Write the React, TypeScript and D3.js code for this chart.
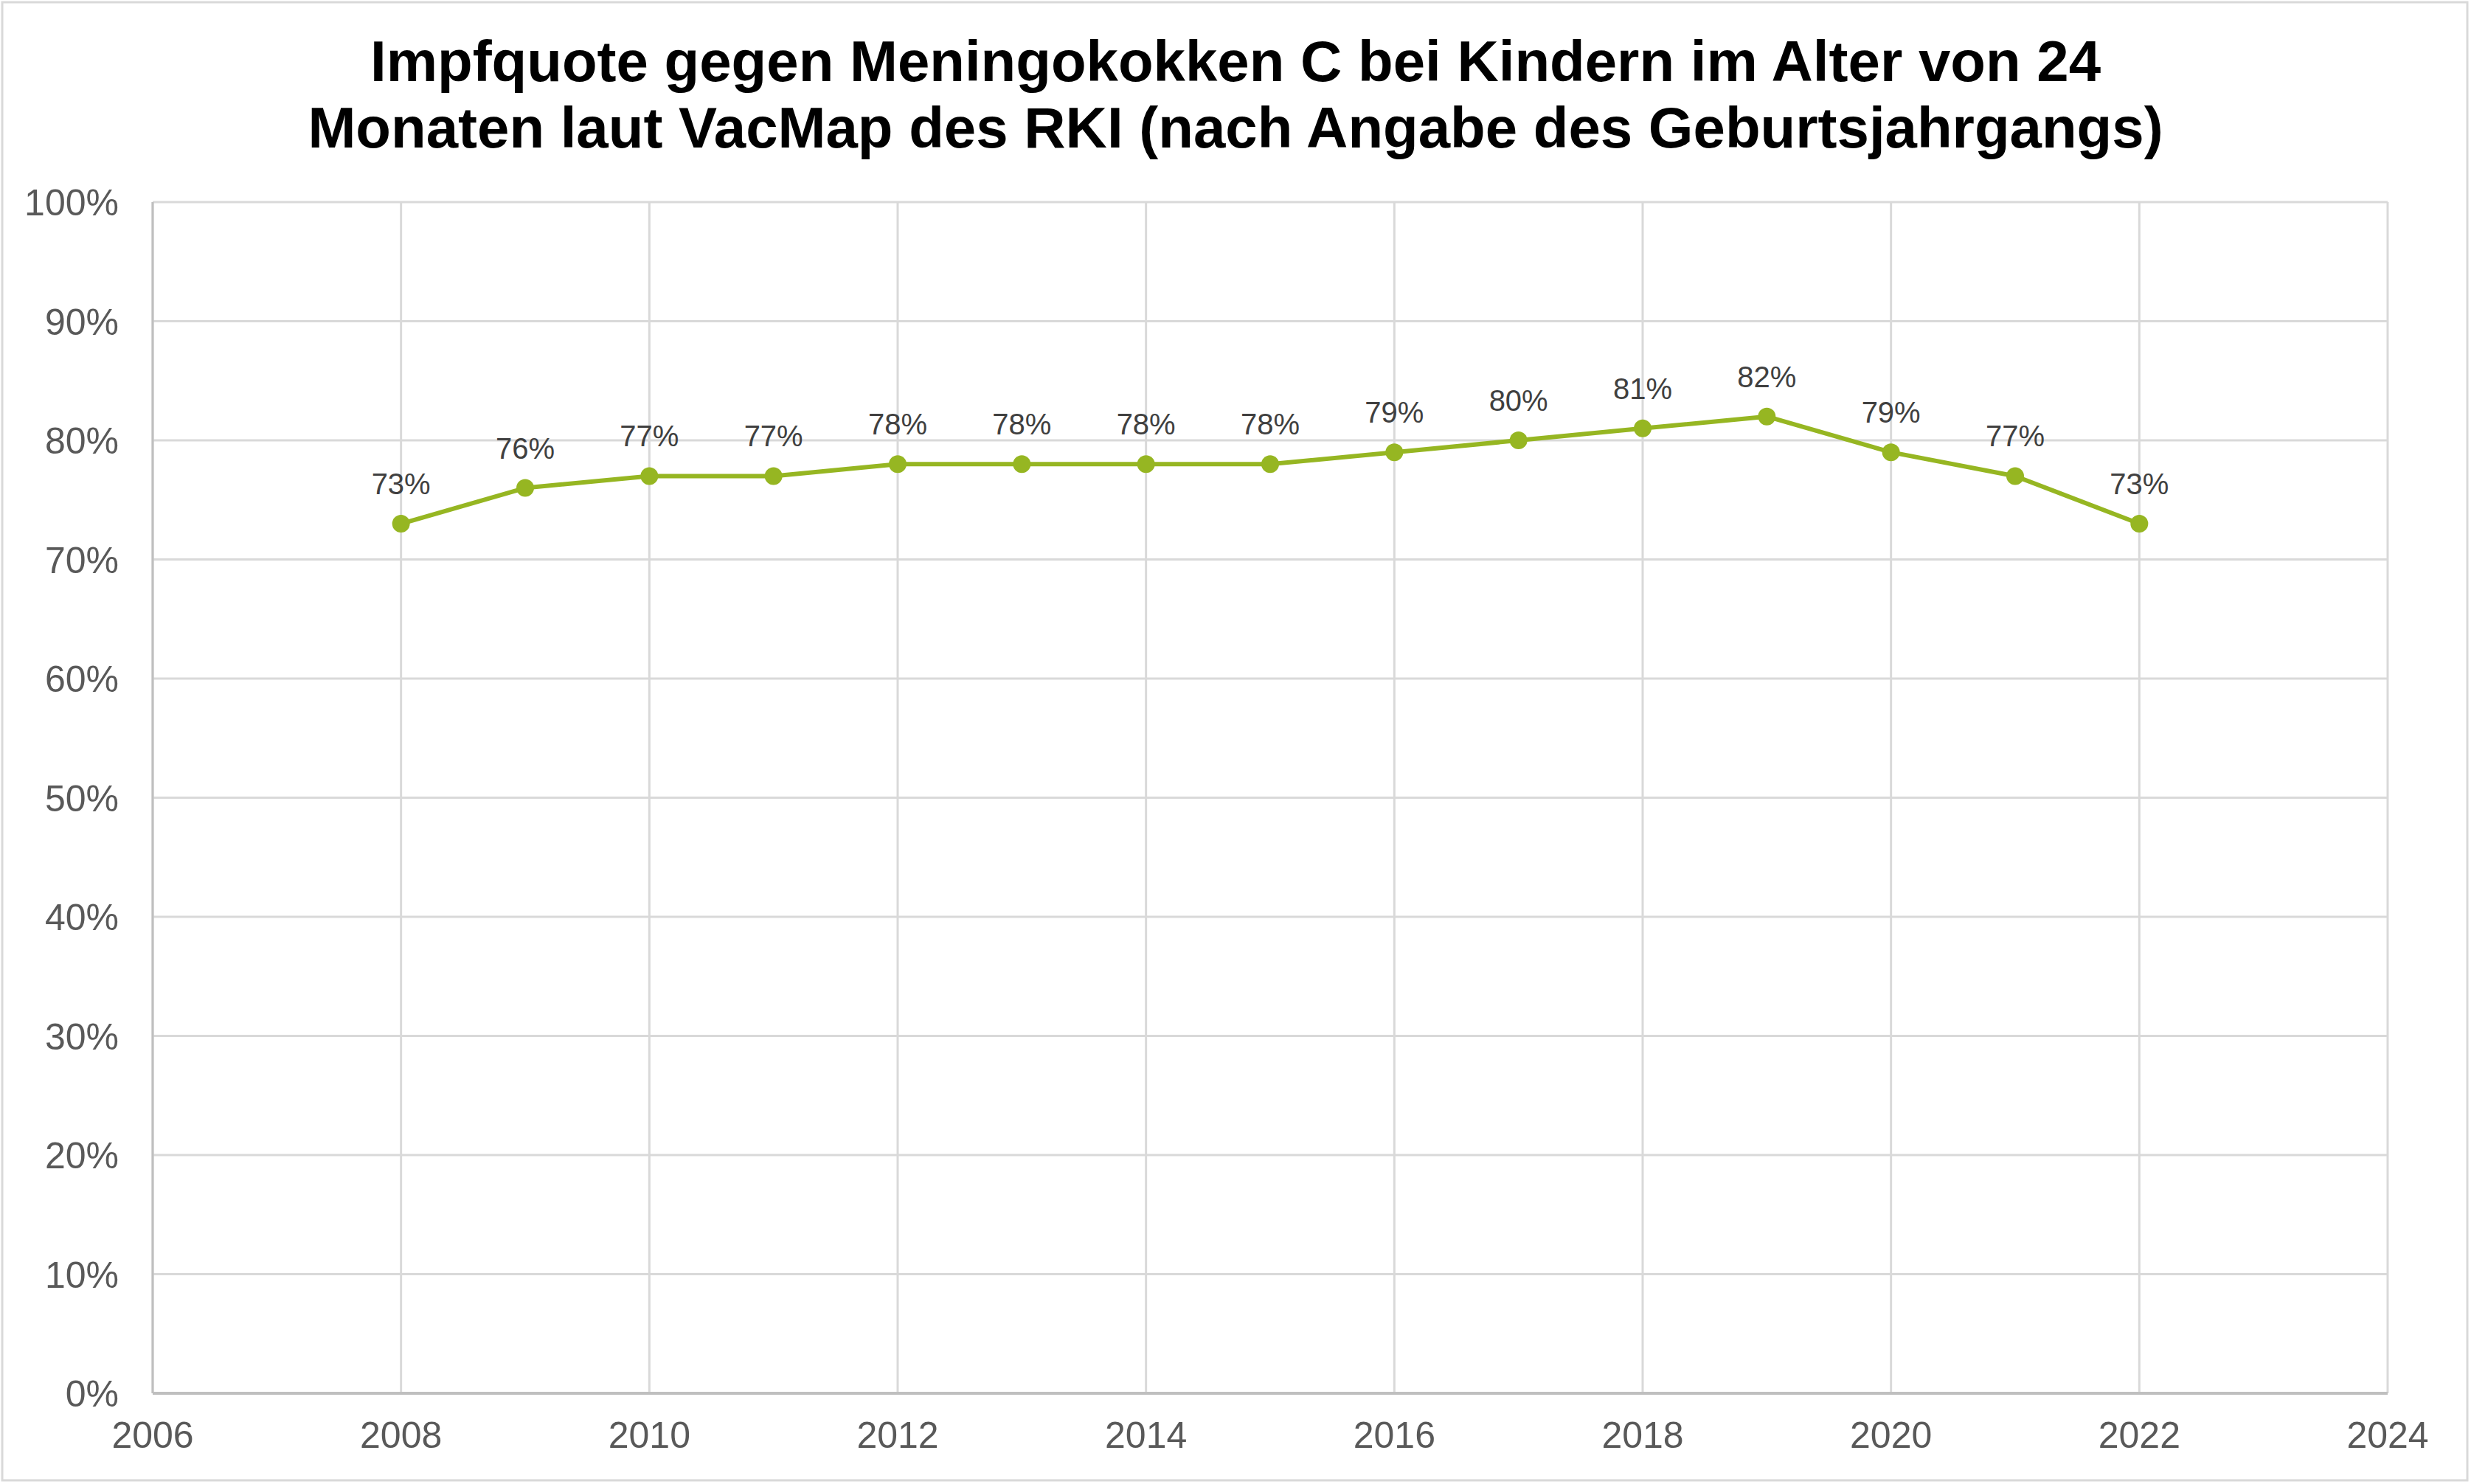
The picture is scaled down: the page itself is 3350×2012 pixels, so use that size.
import React, { useEffect } from "react";
import * as d3 from "d3";

const years = [2008, 2009, 2010, 2011, 2012, 2013, 2014, 2015, 2016, 2017, 2018, 2019, 2020, 2021, 2022];
const rates = [73, 76, 77, 77, 78, 78, 78, 78, 79, 80, 81, 82, 79, 77, 73];
const xTicks = [2006, 2008, 2010, 2012, 2014, 2016, 2018, 2020, 2022, 2024];
const yTicks = [0, 10, 20, 30, 40, 50, 60, 70, 80, 90, 100];
const titleLines = [
  "Impfquote gegen Meningokokken C bei Kindern im Alter von 24",
  "Monaten laut VacMap des RKI (nach Angabe des Geburtsjahrgangs)",
];

const W = 3350;
const H = 2012;
const FONT = "'Liberation Sans', Arial, sans-serif";
const GREEN = "#96b622";

export default function App() {
  useEffect(() => {
    document.body.style.margin = "0";
  }, []);

  const left = 207, right = 3237, top = 274, bottom = 1889;
  const x = d3.scaleLinear().domain([2006, 2024]).range([left, right]);
  const y = d3.scaleLinear().domain([0, 100]).range([bottom, top]);
  const line = d3
    .line<number>()
    .x((_, i) => x(years[i]))
    .y((d) => y(d));

  return (
    <svg width={W} height={H} style={{ display: "block", background: "#fff" }}>
      <rect x={3} y={3} width={W - 8} height={H - 8} fill="#fff" stroke="#d9d9d9" strokeWidth={3} />
      {titleLines.map((t, i) => (
        <text
          key={i}
          x={W / 2}
          y={110 + i * 90}
          textAnchor="middle"
          fontFamily={FONT}
          fontWeight="bold"
          fontSize={78}
          fill="#000"
        >
          {t}
        </text>
      ))}
      {yTicks.map((t) => (
        <g key={"y" + t}>
          {t > 0 && (
            <line x1={left} x2={right} y1={y(t)} y2={y(t)} stroke="#d9d9d9" strokeWidth={3} />
          )}
          <text
            x={161}
            y={y(t) + 18}
            textAnchor="end"
            fontFamily={FONT}
            fontSize={50}
            fill="#595959"
          >
            {t + "%"}
          </text>
        </g>
      ))}
      {xTicks.map((t) => (
        <g key={"x" + t}>
          <line x1={x(t)} x2={x(t)} y1={top} y2={bottom} stroke="#d9d9d9" strokeWidth={3} />
          <text
            x={x(t)}
            y={1963}
            textAnchor="middle"
            fontFamily={FONT}
            fontSize={50}
            fill="#595959"
          >
            {t}
          </text>
        </g>
      ))}
      <line x1={left} x2={right} y1={bottom} y2={bottom} stroke="#bfbfbf" strokeWidth={4} />
      <line x1={left} x2={left} y1={top} y2={bottom} stroke="#bfbfbf" strokeWidth={3} />
      <path d={line(rates) || ""} fill="none" stroke={GREEN} strokeWidth={6} strokeLinejoin="round" />
      {rates.map((v, i) => (
        <g key={"p" + i}>
          <circle cx={x(years[i])} cy={y(v)} r={12} fill={GREEN} />
          <text
            x={x(years[i])}
            y={y(v) - 40}
            textAnchor="middle"
            fontFamily={FONT}
            fontSize={40}
            fill="#404040"
          >
            {v + "%"}
          </text>
        </g>
      ))}
    </svg>
  );
}
